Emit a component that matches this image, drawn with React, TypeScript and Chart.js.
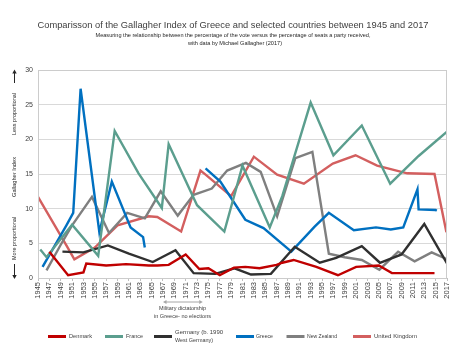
import React, { useEffect, useRef } from "react";
import { Chart, registerables } from "chart.js";
Chart.register(...registerables);

const FONT = '"Liberation Sans", Arial, sans-serif';

const tickYears = [1945, 1947, 1949, 1951, 1953, 1955, 1957, 1959, 1961, 1963, 1965, 1967, 1969, 1971, 1973, 1975, 1977, 1979, 1981, 1983, 1985, 1987, 1989, 1991, 1993, 1995, 1997, 1999, 2001, 2003, 2005, 2007, 2009, 2011, 2013, 2015, 2017];

const denmarkYears = [1947, 1950.3, 1953, 1953.5, 1957, 1960.5, 1964.5, 1966, 1968, 1971, 1973.4, 1975, 1977, 1979.5, 1981.5, 1984, 1987, 1988, 1990, 1994, 1997.8, 2001, 2005, 2007.3, 2011, 2014.8];
const denmarkValues = [3.8, 0.4, 0.8, 2.1, 1.8, 2.0, 1.8, 1.8, 1.9, 3.4, 1.3, 1.4, 0.4, 1.5, 1.6, 1.4, 1.9, 2.2, 2.6, 1.6, 0.4, 1.6, 1.8, 0.7, 0.7, 0.7];

const franceYears = [1945.4, 1946.5, 1951, 1955.6, 1958.5, 1962.7, 1966.8, 1968, 1973, 1977.8, 1981, 1985.8, 1988, 1993, 1997, 2002, 2007, 2012, 2017];
const franceValues = [4.1, 3.0, 7.7, 3.2, 21.2, 15.1, 10.1, 19.3, 10.5, 6.7, 16.2, 7.3, 11.8, 25.3, 17.7, 22.0, 13.6, 17.6, 21.1];

const germanyYears = [1949.3, 1953, 1957.3, 1961, 1965.2, 1969.2, 1972.4, 1976.2, 1979.6, 1982.5, 1986, 1990.2, 1994.6, 1997.5, 2002, 2005.2, 2009, 2013, 2017];
const germanyValues = [3.8, 3.7, 4.7, 3.5, 2.3, 4.0, 0.7, 0.6, 1.4, 0.5, 0.6, 4.5, 2.2, 2.9, 4.6, 2.2, 3.4, 7.8, 2.1];

const greeceYears = [1945.8, 1950, 1951.2, 1952.5, 1955.8, 1958, 1961.3, 1963.5, 1963.8, 1969, 1974.5, 1977.1, 1981.5, 1984.7, 1989.6, 1993.7, 1996.2, 2000.6, 2004.5, 2007.1, 2009.3, 2011.8, 2012, 2015, 2015.2];
const greeceValues = [1.6, 7.6, 9.4, 27.3, 6.6, 13.9, 7.3, 5.9, 4.4, null, 15.8, 13.9, 8.4, 7.2, 3.8, 7.4, 9.4, 6.9, 7.3, 7.0, 7.3, 12.8, 9.9, 9.8, 9.7];

const newZealandYears = [1946.5, 1949, 1951, 1954.5, 1957.5, 1960.7, 1963.8, 1966.6, 1969.6, 1972.4, 1975.6, 1978.3, 1981.6, 1984.2, 1987.1, 1990.3, 1993.3, 1996.2, 1999, 2002, 2005.1, 2008.4, 2011.3, 2014.3, 2017];
const newZealandValues = [1.1, 4.8, 7.6, 11.7, 6.5, 9.4, 8.6, 12.5, 9.0, 12.0, 12.9, 15.5, 16.6, 15.3, 8.9, 17.3, 18.2, 3.5, 3.0, 2.6, 1.2, 3.8, 2.4, 3.7, 2.7];

const ukYears = [1945, 1950, 1951.4, 1955, 1959, 1964.5, 1966, 1970.2, 1973.6, 1974.5, 1979, 1983, 1987.1, 1991.8, 1996.9, 2000.9, 2004.7, 2010, 2014.8, 2016.9];
const ukValues = [11.7, 4.7, 2.7, 4.4, 7.6, 8.9, 8.8, 6.7, 15.5, 14.9, 11.8, 17.5, 14.9, 13.6, 16.5, 17.7, 16.2, 15.1, 15.0, 6.6];

const seriesNames = ["Denmark", "France", "Germany (b. 1990 West Germany)", "Greece", "New Zealand", "United Kingdom"];
const seriesColors = ["#c00000", "#5b9e8e", "#303030", "#0070c0", "#7f7f7f", "#d35f5f"];
const seriesYears = [denmarkYears, franceYears, germanyYears, greeceYears, newZealandYears, ukYears];
const seriesValues = [denmarkValues, franceValues, germanyValues, greeceValues, newZealandValues, ukValues];

const titleText = "Comparisson of the Gallagher Index of Greece and selected countries between 1945 and 2017";
const subtitleLines = [
  "Measuring the relationship between the percentage of the vote versus the percentage of seats a party received,",
  "with data by Michael Gallagher (2017)",
];
const yAxisTexts = ["Less proportional", "Gallagher Index", "More proportional"];
const dictatorshipLines = ["Military dictatorship", "in Greece- no elections"];
const dictatorshipYears = [1967, 1974];

function fitText(ctx: CanvasRenderingContext2D, text: string, x: number, y: number, width: number, size: number, color: string, align: "center" | "left" = "center", rotate = 0) {
  ctx.save();
  ctx.font = `${size}px ${FONT}`;
  const w = ctx.measureText(text).width;
  ctx.translate(x, y);
  if (rotate) ctx.rotate(rotate);
  ctx.scale(width / w, 1);
  ctx.fillStyle = color;
  ctx.textAlign = align;
  ctx.textBaseline = "middle";
  ctx.fillText(text, 0, 0);
  ctx.restore();
}

function arrowHead(ctx: CanvasRenderingContext2D, x: number, y: number, dx: number, dy: number, size: number) {
  const len = Math.hypot(dx, dy);
  const ux = dx / len, uy = dy / len;
  const px = -uy, py = ux;
  ctx.beginPath();
  ctx.moveTo(x, y);
  ctx.lineTo(x - ux * size + px * size * 0.55, y - uy * size + py * size * 0.55);
  ctx.lineTo(x - ux * size - px * size * 0.55, y - uy * size - py * size * 0.55);
  ctx.closePath();
  ctx.fill();
}

const annotPlugin = {
  id: "annot",
  beforeDraw(chart: any) {
    const ctx = chart.ctx as CanvasRenderingContext2D;
    ctx.save();
    ctx.fillStyle = "#ffffff";
    ctx.fillRect(0, 0, chart.width, chart.height);
    ctx.restore();
  },
  afterDraw(chart: any) {
    const ctx = chart.ctx as CanvasRenderingContext2D;
    const ca = chart.chartArea;
    // border
    ctx.save();
    ctx.strokeStyle = "#cccccc";
    ctx.lineWidth = 1;
    ctx.strokeRect(Math.round(ca.left) + 0.5, Math.round(ca.top) + 0.5, Math.round(ca.right - ca.left) - 1, Math.round(ca.bottom - ca.top));
    ctx.restore();

    // titles
    fitText(ctx, titleText, 233, 25, 391, 9.5, "#404040");
    fitText(ctx, subtitleLines[0], 233, 35.7, 275, 5.6, "#262626");
    fitText(ctx, subtitleLines[1], 235, 43, 94, 5.6, "#262626");

    // y axis title texts
    fitText(ctx, yAxisTexts[0], 14.5, 114, 42, 6, "#262626", "center", -Math.PI / 2);
    fitText(ctx, yAxisTexts[1], 14.5, 177, 40, 6, "#262626", "center", -Math.PI / 2);
    fitText(ctx, yAxisTexts[2], 14.5, 238.5, 43, 6, "#262626", "center", -Math.PI / 2);
    ctx.save();
    ctx.strokeStyle = "#262626";
    ctx.fillStyle = "#262626";
    ctx.lineWidth = 1;
    ctx.beginPath();
    ctx.moveTo(14.5, 83);
    ctx.lineTo(14.5, 72);
    ctx.stroke();
    arrowHead(ctx, 14.5, 69.5, 0, -1, 4);
    ctx.beginPath();
    ctx.moveTo(14.5, 264);
    ctx.lineTo(14.5, 276);
    ctx.stroke();
    arrowHead(ctx, 14.5, 279, 0, 1, 4);
    ctx.restore();

    // dictatorship annotation
    const xs = chart.scales.x;
    const x1 = xs.getPixelForValue(dictatorshipYears[0]);
    const x2 = xs.getPixelForValue(dictatorshipYears[1]);
    ctx.save();
    ctx.strokeStyle = "#a6a6a6";
    ctx.fillStyle = "#a6a6a6";
    ctx.lineWidth = 1;
    ctx.beginPath();
    ctx.moveTo(x1 + 3, 302);
    ctx.lineTo(x2 - 3, 302);
    ctx.stroke();
    arrowHead(ctx, x1, 302, -1, 0, 3.5);
    arrowHead(ctx, x2, 302, 1, 0, 3.5);
    ctx.restore();
    fitText(ctx, dictatorshipLines[0], 182.5, 308.5, 47, 6.2, "#404040");
    fitText(ctx, dictatorshipLines[1], 182.5, 316, 57, 6.2, "#404040");

    // legend
    const legendItems = [
      { lx: 48, tx: 69, tw: 23 },
      { lx: 105, tx: 126, tw: 17 },
      { lx: 154, tx: 175, tw: 48 },
      { lx: 236, tx: 256, tw: 17 },
      { lx: 286.5, tx: 307, tw: 30 },
      { lx: 353, tx: 374, tw: 43 },
    ];
    legendItems.forEach((it, i) => {
      ctx.save();
      ctx.strokeStyle = seriesColors[i];
      ctx.lineWidth = 3;
      ctx.beginPath();
      ctx.moveTo(it.lx, 336.5);
      ctx.lineTo(it.lx + 18, 336.5);
      ctx.stroke();
      ctx.restore();
      if (i === 2) {
        fitText(ctx, "Germany (b. 1990", it.tx, 332.7, 48, 6.2, "#404040", "left");
        fitText(ctx, "West Germany)", it.tx, 340, 38, 6.2, "#404040", "left");
      } else if (i === 5) {
        fitText(ctx, seriesNames[i], it.tx, 335.8, it.tw, 6.2, "#404040", "left");
      } else {
        fitText(ctx, seriesNames[i], it.tx, 336.5, it.tw, 6.2, "#404040", "left");
      }
    });
  },
};

export default function App() {
  const ref = useRef<HTMLCanvasElement | null>(null);
  useEffect(() => {
    document.body.style.margin = "0";
    const canvas = ref.current;
    if (!canvas) return;
    const datasets = seriesNames.map((name, i) => ({
      label: name,
      data: seriesYears[i].map((x, j) => ({ x, y: seriesValues[i][j] })),
      borderColor: seriesColors[i],
      backgroundColor: seriesColors[i],
      borderWidth: 2.4,
      pointRadius: 0,
      pointHoverRadius: 0,
      tension: 0,
      spanGaps: false,
      fill: false,
    }));
    const chart = new Chart(canvas, {
      type: "line",
      data: { datasets },
      options: {
        responsive: false,
        animation: false,
        events: [],
        layout: { padding: { top: 70, right: 19, bottom: 0, left: 0 } },
        plugins: { legend: { display: false }, title: { display: false }, tooltip: { enabled: false } },
        scales: {
          x: {
            type: "linear",
            min: 1945,
            max: 2017,
            afterBuildTicks: (s: any) => {
              s.ticks = tickYears.map((v) => ({ value: v }));
            },
            afterFit: (s: any) => {
              s.height = 82;
            },
            ticks: {
              autoSkip: false,
              minRotation: 90,
              maxRotation: 90,
              padding: 1,
              color: "#404040",
              font: { family: FONT, size: 7.5 },
              callback: (v: any) => String(v),
            },
            grid: { drawOnChartArea: false, drawTicks: true, tickLength: 3, color: "#bfbfbf" },
            border: { color: "#bfbfbf" },
          },
          y: {
            min: 0,
            max: 30,
            afterFit: (s: any) => {
              s.width = 38;
            },
            ticks: { stepSize: 5, padding: 5, color: "#404040", font: { family: FONT, size: 7 } },
            grid: { color: "#d9d9d9", drawTicks: false },
            border: { color: "#bfbfbf" },
          },
        },
      },
      plugins: [annotPlugin],
    } as any);
    return () => chart.destroy();
  }, []);
  return <canvas ref={ref} width={466} height={360} style={{ display: "block" }} />;
}
